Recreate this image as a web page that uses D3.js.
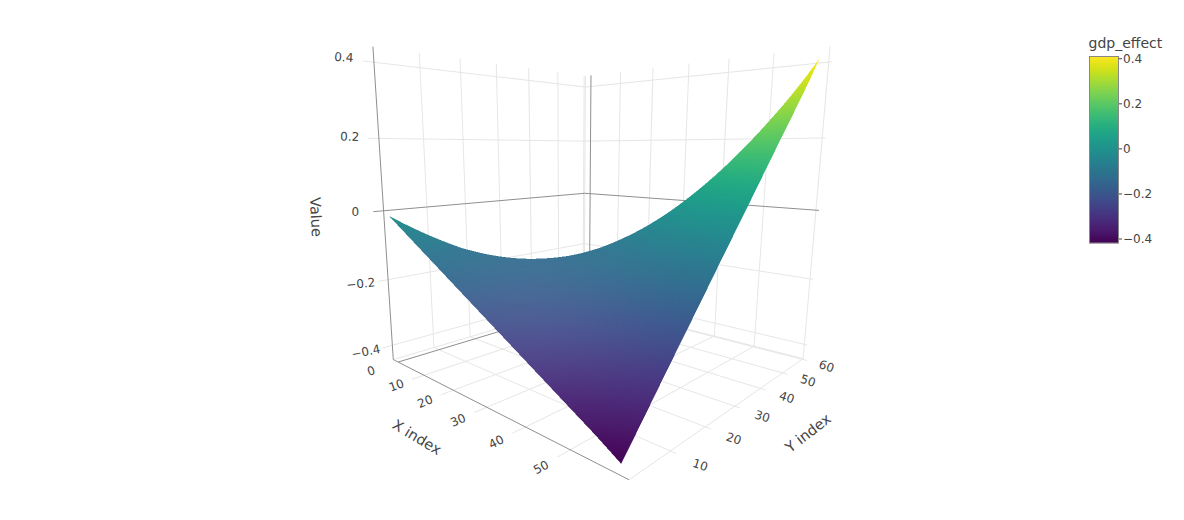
<!DOCTYPE html>
<html><head><meta charset="utf-8">
<script src="https://cdn.jsdelivr.net/npm/d3@7/dist/d3.min.js"></script>
<style>html,body{margin:0;background:#fff}body{position:relative;width:1184px;height:520px;overflow:hidden}svg{display:block}text{font-family:"DejaVu Sans",sans-serif;fill:#444}canvas{position:absolute;left:0;top:0;width:1184px;height:520px;pointer-events:none}</style>
</head><body><svg id="c" width="1184" height="520"></svg><canvas id="s" width="2368" height="1040"></canvas>
<script>
// ---- data ----
const xIndex = [0,5,10,15,20,25,30,35,40,45,50,55,59.6];
const yIndex = [0,5,10,15,20,25,30,35,40,45,50,55,59.6];
// gdp_effect: one row per xIndex; the surface only exists for y <= x
const row00 = [-.012];
const row05 = [-.046,-.063];
const row10 = [-.080,-.092,-.104];
const row15 = [-.114,-.119,-.123,-.128];
const row20 = [-.148,-.145,-.143,-.140,-.137];
const row25 = [-.182,-.172,-.161,-.151,-.140,-.130];
const row30 = [-.216,-.198,-.179,-.161,-.142,-.124,-.105];
const row35 = [-.250,-.223,-.196,-.169,-.142,-.115,-.088,-.061];
const row40 = [-.284,-.249,-.213,-.178,-.142,-.107,-.071,-.036,0];
const row45 = [-.318,-.274,-.230,-.186,-.142,-.098,-.053,-.009,.035,.079];
const row50 = [-.352,-.299,-.247,-.194,-.141,-.089,-.036,.017,.070,.122,.175];
const row55 = [-.386,-.325,-.263,-.202,-.141,-.080,-.018,.043,.104,.166,.227,.288];
const row60 = [-.420,-.351,-.281,-.212,-.143,-.073,-.004,.065,.135,.204,.273,.343,.412];
const gdpEffect = [row00,row05,row10,row15,row20,row25,row30,row35,row40,row45,row50,row55,row60];
const xTicks = [0,10,20,30,40,50];
const yTicks = [0,10,20,30,40,50,60];
const zTicks = [-.4,-.2,0,.2,.4];
const barTicks = [-.4,-.2,0,.2,.4];

// ---- scene ----
const xDom=[-2,61], yDom=[0,60.5], zDom=[-.445,.44], cDom=[-.42,.41];
const sx=d3.scaleLinear(xDom,[0,1]), sy=d3.scaleLinear(yDom,[0,1]), sz=d3.scaleLinear(zDom,[0,1]);
// camera calibration: cube corner -> screen
const calib=[[0,0,0,393,360],[0,0,1,374,46],[1,0,0,628,480],[1,1,0,803,358],[1,1,1,831,47],[0,1,0,585,303],[0,1,1,584,76]];
function solveCamera(pts){
  const A=[],b=[];
  pts.forEach(([u,v,w,px,py])=>{
    A.push([u,v,w,1,0,0,0,0,-px*u,-px*v,-px*w]);b.push(px);
    A.push([0,0,0,0,u,v,w,1,-py*u,-py*v,-py*w]);b.push(py);
  });
  const n=11,M=d3.range(n).map(i=>d3.range(n+1).map(j=>j<n?d3.sum(A,r=>r[i]*r[j]):d3.sum(A,(r,k)=>r[i]*b[k])));
  for(let i=0;i<n;i++){
    let p=i;for(let r=i+1;r<n;r++)if(Math.abs(M[r][i])>Math.abs(M[p][i]))p=r;
    [M[i],M[p]]=[M[p],M[i]];
    for(let r=0;r<n;r++)if(r!==i){const f=M[r][i]/M[i][i];for(let c=i;c<=n;c++)M[r][c]-=f*M[i][c];}
  }
  return M.map((r,i)=>r[n]/r[i]);
}
const P=solveCamera(calib);
function proj(x,y,z){
  const u=sx(x),v=sy(y),w=sz(z),d=P[8]*u+P[9]*v+P[10]*w+1;
  return [(P[0]*u+P[1]*v+P[2]*w+P[3])/d,(P[4]*u+P[5]*v+P[6]*w+P[7])/d];
}
const svg=d3.select('#c');
const gGrid=svg.append('g').attr('fill','none');
const line3=(a,b,col,w)=>{const p=proj(...a),q=proj(...b);
  gGrid.append('line').attr('x1',p[0]).attr('y1',p[1]).attr('x2',q[0]).attr('y2',q[1]).attr('stroke',col).attr('stroke-width',w);};
const GRID='#e6e6e6',DARK='#8f8f8f';
const [x0,x1]=xDom,[y0,y1]=yDom,[z0,z1]=zDom;
const gridC=v=>v===0?DARK:GRID;
[0,1].forEach(pass=>{
  const use=v=>(v===0)===(pass===1);
  zTicks.filter(use).forEach(z=>{
    line3([x0,-2.2,z],[x0,y1,z],gridC(z),1);
    line3([x0,y1,z],[x1+.6,y1,z],gridC(z),1);
  });
  if(pass===0){
    line3([x0,y1,z0],[x0,y1,z1],GRID,1);
    line3([x1,y1,z0],[x1,y1,z1],GRID,1);
    line3([x0,y1,z0],[x1,y1,z0],GRID,1);
    line3([x1,0,z0],[x1,y1,z0],GRID,1);
    line3([x0,0,z0],[x0,y1,z0],GRID,1);
  }
  yTicks.filter(use).forEach(y=>{
    line3([x0,y,z0],[x0,y,z1],gridC(y),1);
    line3([x0,y,z0],[y===0?x1:x1+1,y,z0],gridC(y),1);
  });
  xTicks.filter(use).forEach(x=>{
    line3([x,y1,z0],[x,y1,z1],gridC(x),1);
    line3([x,x===0?0:-2.7,z0],[x,y1,z0],gridC(x),1);
  });
});

// ---- surface ----
const colorT=d3.scaleLinear(cDom,[0,1]);
const color=z=>d3.interpolateViridis(colorT(z));
const LUT=d3.range(1024).map(i=>{const c=d3.rgb(d3.interpolateViridis(i/1023));return [c.r,c.g,c.b];});
const rowSlope=i=>{const r=gdpEffect[i];return r.length>1?(r[r.length-1]-r[r.length-2])/(yIndex[r.length-1]-yIndex[r.length-2]):null;};
function Zij(i,j){
  const r=gdpEffect[i];
  if(j<r.length)return r[j];
  let s=rowSlope(i);
  if(s===null){const s1=rowSlope(1),s2=rowSlope(2);s=s1-(s2-s1)*(xIndex[1]-xIndex[0])/(xIndex[2]-xIndex[1]);}
  return r[r.length-1]+s*(yIndex[j]-yIndex[r.length-1]);
}
const bisX=d3.bisector(d=>d).right;
function evalZ(x,y){
  const i=Math.min(bisX(xIndex,x)-1,xIndex.length-2),j=Math.min(bisX(yIndex,y)-1,yIndex.length-2);
  const a=(x-xIndex[i])/(xIndex[i+1]-xIndex[i]),b=(y-yIndex[j])/(yIndex[j+1]-yIndex[j]);
  return (1-a)*((1-b)*Zij(i,j)+b*Zij(i,j+1))+a*((1-b)*Zij(i+1,j)+b*Zij(i+1,j+1));
}
const cv=document.getElementById('s'),ctx=cv.getContext('2d'),W=cv.width,H=cv.height,img=ctx.createImageData(W,H),buf=img.data;
const SS=2;
const sheen=(px,py)=>.09*Math.exp(-(((px-520)*(px-520))/(2*95*95)+((py-310)*(py-310))/(2*70*70)));
function raster(A,B,C){
  const [ax,ay,az]=A,[bx,by,bz]=B,[cx,cy,cz]=C;
  const den=(by-cy)*(ax-cx)+(cx-bx)*(ay-cy);if(Math.abs(den)<1e-9)return;
  const minX=Math.max(0,Math.floor(Math.min(ax,bx,cx))),maxX=Math.min(W-1,Math.ceil(Math.max(ax,bx,cx)));
  const minY=Math.max(0,Math.floor(Math.min(ay,by,cy))),maxY=Math.min(H-1,Math.ceil(Math.max(ay,by,cy)));
  for(let py=minY;py<=maxY;py++)for(let px=minX;px<=maxX;px++){
    const X=px+.5,Y=py+.5;
    const l1=((by-cy)*(X-cx)+(cx-bx)*(Y-cy))/den,l2=((cy-ay)*(X-cx)+(ax-cx)*(Y-cy))/den,l3=1-l1-l2;
    if(l1<-1e-6||l2<-1e-6||l3<-1e-6)continue;
    const z=l1*az+l2*bz+l3*cz;
    const t=Math.max(0,Math.min(1023,Math.round(colorT(z)*1023)));
    const col=LUT[t],k=sheen(X/SS,Y/SS),o=(py*W+px)*4;
    buf[o]=col[0]+(255-col[0])*k;buf[o+1]=col[1]+(255-col[1])*k;buf[o+2]=col[2]+(255-col[2])*k;buf[o+3]=255;
  }
}
const xEnd=xIndex[xIndex.length-1];
const vert=(x,y)=>{x=Math.min(x,xEnd);y=Math.min(y,xEnd);const z=evalZ(x,y),p=proj(x,y,z);return [p[0]*SS,p[1]*SS,z];};
for(let x=xIndex[0];x<xEnd;x++)for(let y=x;y>=yIndex[0];y--){
  raster(vert(x,y),vert(x+1,y),vert(x+1,y+1));
  if(y<x)raster(vert(x,y),vert(x+1,y+1),vert(x,y+1));
}
ctx.putImageData(img,0,0);

// ---- labels ----
const fmt=v=>v===0?'0':String(v).replace('-','\u2212');
const gLab=svg.append('g').attr('font-size',12).attr('text-anchor','middle');
const lab=(p,t,r,fs)=>gLab.append('text').attr('transform',`translate(${p[0]},${p[1]}) rotate(${r})`).attr('dy','.35em').attr('font-size',fs||null).text(t);
xTicks.forEach(x=>lab(proj(x,-6,z0-.002),fmt(x),-18-x*.2));
yTicks.slice(1).forEach(y=>lab(proj(x1+5,y,z0-.002),fmt(y),18));
zTicks.forEach(z=>lab(proj(x0-4,-4,z*1.04-.003),fmt(z),z>0?4*z/.4:z*28));
lab([417,437],'X index',31,14.5);
lab([808,433],'Y index',-38,14.5);
lab([316,217],'Value',87,14.5);

// ---- colour bar ----
const barY=d3.scaleLinear(cDom,[243,56]);
const gBar=svg.append('g');
d3.range(56,243).forEach(py=>gBar.append('rect').attr('x',1089).attr('y',py).attr('width',30).attr('height',1.2).attr('fill',color(barY.invert(py+.5))));
gBar.append('rect').attr('x',1089.5).attr('y',56.5).attr('width',29).attr('height',186.5).attr('fill','none').attr('stroke','#888').attr('stroke-width',1);
const axis=d3.axisRight(barY).tickValues(barTicks).tickSize(3).tickPadding(1).tickFormat(fmt);
const gAx=svg.append('g').attr('transform','translate(1119,0)').call(axis);
gAx.select('.domain').remove();
gAx.selectAll('line').attr('stroke','#444');
gAx.selectAll('text').attr('font-size',12).style('font-family','"DejaVu Sans",sans-serif').attr('fill','#444');
svg.append('text').attr('x',1088.5).attr('y',47.5).attr('font-size',14).text('gdp_effect');
</script></body></html>
